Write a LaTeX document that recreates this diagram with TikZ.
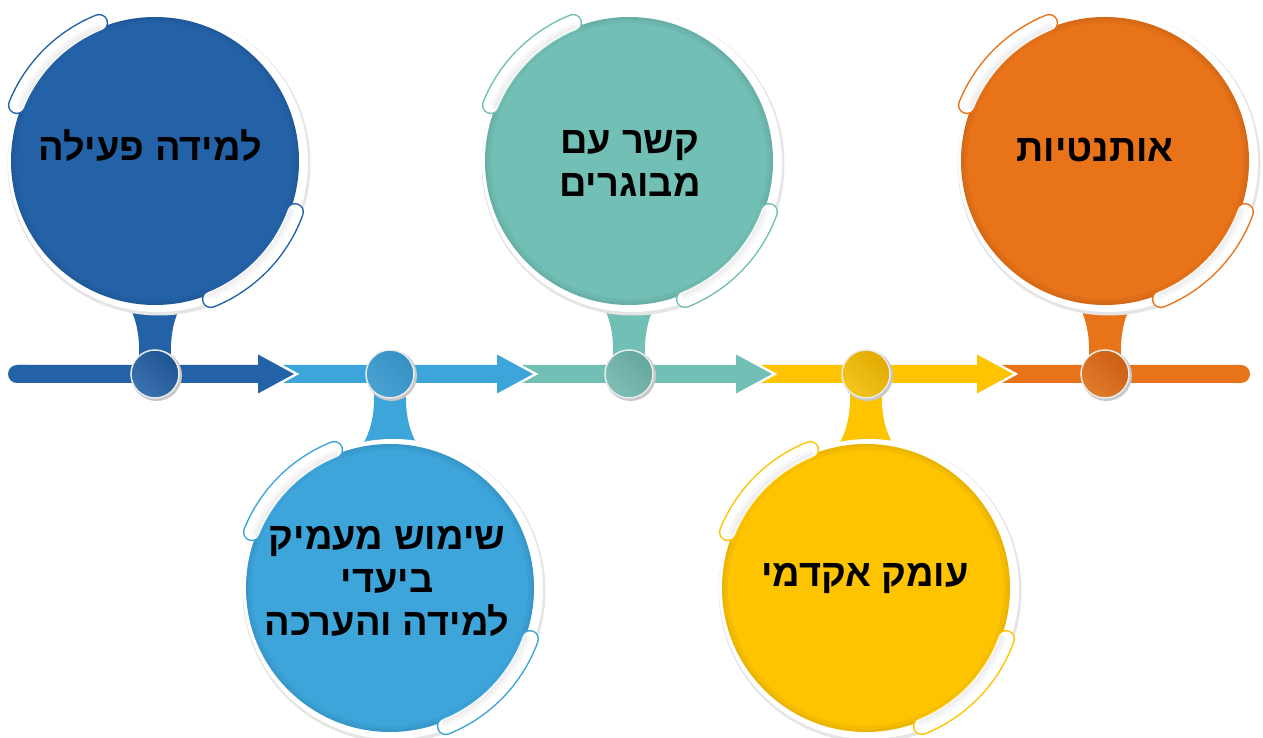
\documentclass[tikz,border=0pt]{standalone}
\usepackage{fontspec}
\newfontfamily\heb[Script=Hebrew]{Liberation Sans}
\TeXXeTstate=1
\definecolor{cblue}{HTML}{2462A8}
\definecolor{clblue}{HTML}{3EA5DB}
\definecolor{cteal}{HTML}{72BFB6}
\definecolor{cyellow}{HTML}{FEC400}
\definecolor{corange}{HTML}{E87318}
\definecolor{dblue}{HTML}{1E5491}\definecolor{eblue}{HTML}{3A72AE}
\definecolor{dlblue}{HTML}{3590C2}\definecolor{elblue}{HTML}{4AA3D3}
\definecolor{dteal}{HTML}{63A79F}\definecolor{eteal}{HTML}{80BDB5}
\definecolor{dyellow}{HTML}{E1AA00}\definecolor{eyellow}{HTML}{F2C61E}
\definecolor{dorange}{HTML}{CC5F14}\definecolor{eorange}{HTML}{E07C2A}
\tikzset{
  disk/.style={circle, minimum size=288pt, inner sep=0pt},
  knob/.style={circle, minimum size=48pt, inner sep=0pt, draw=white!92!black, line width=1.5pt},
  gap/.style={draw=white, line width=5pt, line join=miter},
  txt/.style={font=\heb\bfseries\fontsize{38}{43}\selectfont, align=center, text=black},
}
% capsule along the rim: #1 colour, #2 start, #3 end
\newcommand{\capsule}[3]{%
  \draw[#1, line width=18pt, line cap=round] (#2:149) arc[start angle=#2, end angle=#3, radius=149];
  \draw[white, line width=15pt, line cap=round] (#2:149) arc[start angle=#2, end angle=#3, radius=149];
  \draw[black!6, line width=4pt, line cap=round] (#2:144.5) arc[start angle=#2, end angle=#3, radius=144.5];
  \draw[black!3, line width=3pt, line cap=round] (#2:147.5) arc[start angle=#2, end angle=#3, radius=147.5];}
% #1 name, #2 x, #3 y, #4 colour
\newcommand{\stepdisk}[4]{%
  \fill[black!10] (#2+4,#3-3) circle (151.5);
  \fill[white] (#2+3,#3-1) circle (150);
  \node[disk, fill=#4] (#1) at (#2,#3) {};
  \begin{scope}[shift={(#2,#3)}]
    \draw[black, opacity=0.04, line width=6pt] (0,0) circle (141);
    \draw[black, opacity=0.04, line width=2.5pt] (0,0) circle (142.7);
    \capsule{#4}{112}{158}
    \capsule{#4}{-20}{-68}
  \end{scope}}
% stems: #1 x, #2 colour
\newcommand{\stemup}[2]{%
  \fill[#2] (#1-17,364) .. controls (#1-14,395) and (#1-16,420) .. (#1-32,442)
     -- (#1+32,442) .. controls (#1+16,420) and (#1+14,395) .. (#1+17,364) -- cycle;}
\newcommand{\stemdown}[2]{%
  \fill[#2] (#1-17,364) .. controls (#1-14,333) and (#1-16,308) .. (#1-32,286)
     -- (#1+32,286) .. controls (#1+16,308) and (#1+14,333) .. (#1+17,364) -- cycle;}
% knob: #1 name, #2 x, #3 dark, #4 light
\newcommand{\knob}[4]{%
  \fill[black!22] (#2+1.5,362.5) circle (25.5);
  \node[knob, left color=#3, right color=#4, shading angle=-45] (#1) at (#2,364) {};}
% arrow segment: #1 colour, #2 start x, #3 tip x
\newcommand{\arrowseg}[3]{%
  \draw[gap] (#2,355) -- (#3-36,355) -- (#3-36,344.5) -- (#3,364) -- (#3-36,383.5) -- (#3-36,373) -- (#2,373);
  \fill[#1] (#2,355) -- (#3-36,355) -- (#3-36,344.5) -- (#3,364) -- (#3-36,383.5) -- (#3-36,373) -- (#2,373) -- cycle;}
\begin{document}
\begin{tikzpicture}[x=1pt,y=1pt]
\useasboundingbox (0,0) rectangle (1263,738);
% timeline bar (right to left so that each head lies over the next tail)
\fill[corange] (1002,355) -- (1241,355) arc[start angle=-90, end angle=90, radius=9] -- (1002,373) -- cycle;
\arrowseg{cyellow}{761}{1013}
\arrowseg{cteal}{522}{772}
\arrowseg{clblue}{283}{533}
\arrowseg{cblue}{17}{294}
\fill[cblue] (17,373) arc[start angle=90, end angle=270, radius=9] -- (30,355) -- (30,373) -- cycle;
% stems
\stemup{155}{cblue}
\stemdown{390}{clblue}
\stemup{629}{cteal}
\stemdown{866}{cyellow}
\stemup{1105}{corange}
% knobs
\knob{k1}{155}{dblue}{eblue}
\knob{k2}{390}{dlblue}{elblue}
\knob{k3}{629}{dteal}{eteal}
\knob{k4}{866}{dyellow}{eyellow}
\knob{k5}{1105}{dorange}{eorange}
% disks
\stepdisk{d1}{155}{577}{cblue}
\stepdisk{d2}{390}{150}{clblue}
\stepdisk{d3}{629}{577}{cteal}
\stepdisk{d4}{866}{150}{cyellow}
\stepdisk{d5}{1105}{577}{corange}
% texts
\node[txt] (t1) at (150,592) {\beginR למידה פעילה\endR};
\node[txt] (t2) at (387,157) {\beginR שימוש מעמיק\endR\\\beginR ביעדי\endR\\\beginR למידה והערכה\endR};
\node[txt] (t3) at (630,575) {\beginR קשר עם\endR\\\beginR מבוגרים\endR};
\node[txt] (t4) at (865,159) {\beginR עומק אקדמי\endR};
\node[txt] (t5) at (1095,588) {\beginR אותנטיות\endR};
\end{tikzpicture}
\end{document}
